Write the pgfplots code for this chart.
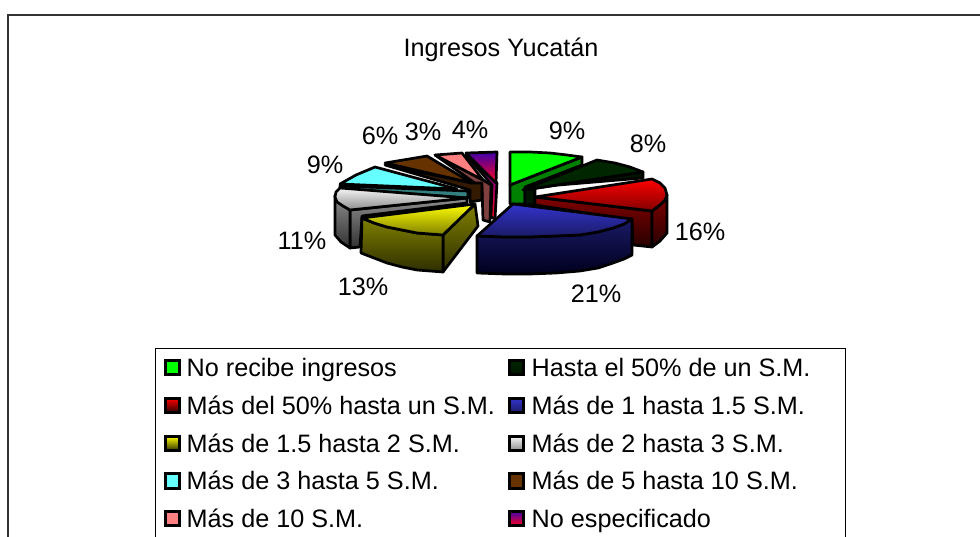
\documentclass[border=0pt]{standalone}
\usepackage{fontspec}
\setmainfont{Liberation Sans}
\usepackage{pgfplots}
\pgfplotsset{compat=1.18}
\definecolor{gA}{RGB}{0,255,0}
\definecolor{gB}{RGB}{0,128,0}
\definecolor{dA}{RGB}{0,38,0}
\definecolor{dB}{RGB}{0,20,0}
\definecolor{rA}{RGB}{255,0,0}
\definecolor{rB}{RGB}{128,0,0}
\definecolor{rC}{RGB}{40,0,0}
\definecolor{bA}{RGB}{51,51,204}
\definecolor{bB}{RGB}{26,26,102}
\definecolor{bC}{RGB}{0,0,30}
\definecolor{yA}{RGB}{255,255,0}
\definecolor{yB}{RGB}{128,128,0}
\definecolor{yC}{RGB}{45,45,0}
\definecolor{wA}{RGB}{245,245,245}
\definecolor{wB}{RGB}{140,140,140}
\definecolor{wC}{RGB}{50,50,50}
\definecolor{cA}{RGB}{102,255,255}
\definecolor{cB}{RGB}{51,128,128}
\definecolor{nA}{RGB}{102,51,0}
\definecolor{nB}{RGB}{51,26,0}
\definecolor{pA}{RGB}{255,128,128}
\definecolor{pB}{RGB}{128,64,64}
\definecolor{vA}{RGB}{64,0,170}
\definecolor{vB}{RGB}{255,0,30}
\pgfplotsset{
  face/.style n args={2}{top color=#1,bottom color=#2,draw=black,line width=2.7pt,line join=round},
  swatch/.style n args={2}{top color=#1,bottom color=#2,draw=black,line width=2.7pt,line join=miter},
}
\newcommand{\lab}[2]{\node[anchor=base west,inner sep=0pt,font=\fontsize{25.2}{30}\selectfont] at (axis cs:#1) {#2};}
\newcommand{\pct}[2]{\node[anchor=center,inner sep=0pt,font=\fontsize{25.2}{30}\selectfont] at (axis cs:#1) {#2};}
\begin{document}
\begin{tikzpicture}
\useasboundingbox (0,0) rectangle (980pt,537pt);
\begin{axis}[scale only axis,width=980pt,height=537pt,xmin=0,xmax=980,ymin=0,ymax=537,y dir=reverse,hide axis,clip=true]
% frame and legend box
\addplot[color=black!80,line width=1.5pt] coordinates {(8,537)(8,15)(980,15)};
\addplot[color=black,line width=1pt] coordinates {(155.5,537)(155.5,348)(845.5,348)(845.5,537)};
% green
\addplot[face={gB}{gB}] coordinates {(510,185)(582,157)(582,165)(525,187)(525,204)(510,204)} --cycle;
\addplot[face={gA}{gA}] coordinates {(510,152)(530,152)(550,153)(567,155)(582,157)(510,185)} --cycle;
% dark green
\addplot[face={dB}{dB}] coordinates {(525,190)(643,172)(643,178)(535,187)(535,205)(525,205)} --cycle;
\addplot[face={dA}{dA}] coordinates {(523,190)(597,160)(615,163)(630,167)(643,172)} --cycle;
% red
\addplot[face={rB}{rC}] coordinates {(535,197)(652,211)(652,247)(633,245)(632,220)(535,205)} --cycle;
\addplot[face={rB}{rC}] coordinates {(652,211)(660,205)(665,200)(667,195)(667,233)(660,241)(652,247)} --cycle;
\addplot[face={rA}{rB}] coordinates {(535,197)(652,179)(660,183)(665,188)(667,195)(665,200)(660,205)(652,211)} --cycle;
% purple
\addplot[face={vA}{vB}] coordinates {(466,155)(492,185)(491,217)(495,219)(497,183)} --cycle;
\addplot[face={vA}{vB}] coordinates {(466,153)(497,152)(496,183)} --cycle;
% pink
\addplot[face={pB}{pB}] coordinates {(435,155)(482,188)(483,220)(490,222)(491,185)(483,180)} --cycle;
\addplot[face={pA}{pA}] coordinates {(435,155)(462,153)(483,180)} --cycle;
% brown
\addplot[face={nB}{nB}] coordinates {(385,165)(470,190)(470,202)(482,200)(482,183)(472,183)} --cycle;
\addplot[face={nA}{nA}] coordinates {(385,163)(427,156)(472,183)} --cycle;
% cyan
\addplot[face={cB}{cB}] coordinates {(340,186)(468,191)(468,198)(340,189)} --cycle;
\addplot[face={cA}{cA}] coordinates {(340,184)(356,175)(375,167)(457,189)} --cycle;
% gray
\addplot[face={wB}{wC}] coordinates {(350,210)(467,198)(467,203)(362,216)(360,247)(350,248)} --cycle;
\addplot[face={wB}{wC}] coordinates {(335,195)(335,235)(341,242)(350,248)(350,210)(342,205)(337,201)} --cycle;
\addplot[face={wA}{wB}] coordinates {(467,198)(340,188)(336,192)(335,197)(337,202)(343,206)(350,210)} --cycle;
% yellow
\addplot[face={yB}{yC}] coordinates {(443,235)(475,204)(478,226)(443,272)} --cycle;
\addplot[face={yB}{yC}] coordinates {(362,218)(361,253)(374,258)(387,263)(402,267)(417,270)(430,271)(443,272)(443,235)(430,234)(417,233)(402,230)(387,227)(374,223)} --cycle;
\addplot[face={yA}{yB}] coordinates {(362,218)(475,204)(443,235)(430,234)(417,233)(402,230)(387,227)(374,223)} --cycle;
% blue
\addplot[face={bB}{bC}] coordinates {(477,236)(477,273)(505,274)(530,274)(556,273)(580,271)(598,268)(613,263)(624,259)(632,255)(632,219)(624,224)(613,228)(598,232)(580,235)(556,236)(530,237)(505,237)} --cycle;
\addplot[face={bA}{bB}] coordinates {(513,204)(632,219)(624,224)(613,228)(598,232)(580,235)(556,236)(530,237)(505,237)(477,236)} --cycle;
% legend swatches
\addplot[swatch={gA}{gA}] coordinates {(165.3,360.3)(179.7,360.3)(179.7,374.7)(165.3,374.7)} --cycle;
\addplot[swatch={rA}{rC}] coordinates {(165.3,398.3)(179.7,398.3)(179.7,412.7)(165.3,412.7)} --cycle;
\addplot[swatch={yA}{yC}] coordinates {(165.3,436.3)(179.7,436.3)(179.7,450.7)(165.3,450.7)} --cycle;
\addplot[swatch={cA}{cA}] coordinates {(165.3,473.8)(179.7,473.8)(179.7,488.2)(165.3,488.2)} --cycle;
\addplot[swatch={pA}{pA}] coordinates {(165.3,511.3)(179.7,511.3)(179.7,525.7)(165.3,525.7)} --cycle;
\addplot[swatch={dA}{dB}] coordinates {(509.3,360.3)(523.7,360.3)(523.7,374.7)(509.3,374.7)} --cycle;
\addplot[swatch={bA}{bB}] coordinates {(509.3,398.3)(523.7,398.3)(523.7,412.7)(509.3,412.7)} --cycle;
\addplot[swatch={wA}{wB}] coordinates {(509.3,436.3)(523.7,436.3)(523.7,450.7)(509.3,450.7)} --cycle;
\addplot[swatch={nA}{nA}] coordinates {(509.3,473.8)(523.7,473.8)(523.7,488.2)(509.3,488.2)} --cycle;
\addplot[swatch={vA}{vB}] coordinates {(509.3,511.3)(523.7,511.3)(523.7,525.7)(509.3,525.7)} --cycle;
% title
\node[anchor=base,inner sep=0pt,font=\fontsize{25.2}{30}\selectfont] at (axis cs:501,57) {Ingresos Yucatán};
% percentages
\pct{567,131}{9\%}
\pct{648,144}{8\%}
\pct{700,232}{16\%}
\pct{596,294}{21\%}
\pct{363,287}{13\%}
\pct{302,241}{11\%}
\pct{325,165}{9\%}
\pct{380,136}{6\%}
\pct{423,132}{3\%}
\pct{470,130}{4\%}
% legend text
\lab{186.5,376.7}{No recibe ingresos}
\lab{186.5,414}{Más del 50\% hasta un S.M.}
\lab{186.5,452}{Más de 1.5 hasta 2 S.M.}
\lab{186.5,489.5}{Más de 3 hasta 5 S.M.}
\lab{186.5,527}{Más de 10 S.M.}
\lab{531.5,376.7}{Hasta el 50\% de un S.M.}
\lab{531.5,414}{Más de 1 hasta 1.5 S.M.}
\lab{531.5,452}{Más de 2 hasta 3 S.M.}
\lab{531.5,489.5}{Más de 5 hasta 10 S.M.}
\lab{531.5,527}{No especificado}
\end{axis}
\end{tikzpicture}
\end{document}
